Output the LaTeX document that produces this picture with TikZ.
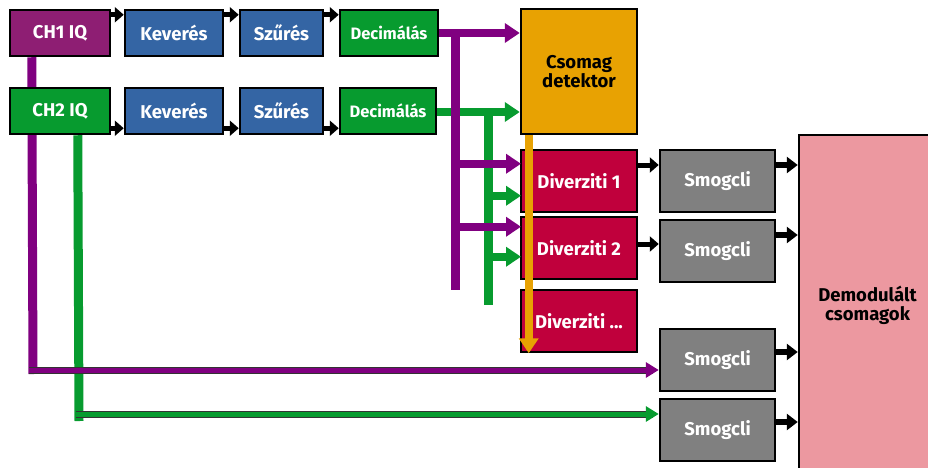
\documentclass[tikz,border=0pt]{standalone}
\usepackage{fontspec}
\setmainfont{Fira Sans}
\usetikzlibrary{arrows.meta,backgrounds}
\definecolor{cPurple}{HTML}{8E1E73}
\definecolor{lPurple}{HTML}{800080}
\definecolor{cBlue}{HTML}{3465A4}
\definecolor{cGreen}{HTML}{079B2F}
\definecolor{cOrange}{HTML}{E8A202}
\definecolor{cCrimson}{HTML}{C0003C}
\definecolor{cGray}{HTML}{808080}
\definecolor{cPink}{HTML}{EC98A0}
\tikzset{
  box/.style={draw=black, line width=2.5pt, inner sep=0pt, text=white,
    font=\bfseries\fontsize{18.5}{21}\selectfont, align=center},
  smallbox/.style={box, font=\bfseries\fontsize{16.5}{19}\selectfont},
  blk/.style={line width=5pt, draw=black,
    -{Triangle[length=9pt,width=15pt]}},
  bigblk/.style={line width=6.5pt, draw=black,
    -{Triangle[length=11pt,width=16pt]}},
  feed/.style={line width=9pt},
  feedarrow/.style={line width=8.5pt, -{Triangle[length=15pt,width=19pt]}},
  outlined/.style={line width=7pt, draw=black!80},
}
\begin{document}
\begin{tikzpicture}[x=1pt,y=-1pt]
\useasboundingbox (0,0) rectangle (928,468);
% input chains
\node[box, fill=cPurple, minimum width=100pt, minimum height=46pt] (ch1) at (60,33) {CH1 IQ};
\node[box, fill=cBlue, minimum width=98pt, minimum height=46pt] (kev1) at (174,33) {Keverés};
\node[box, fill=cBlue, minimum width=83pt, minimum height=46pt] (sz1) at (281.5,33) {Szűrés};
\node[smallbox, fill=cGreen, minimum width=98pt, minimum height=46pt] (dec1) at (389,33) {Decimálás};
\node[box, fill=cGreen, minimum width=100pt, minimum height=46pt] (ch2) at (60,111) {CH2 IQ};
\node[box, fill=cBlue, minimum width=98pt, minimum height=46pt] (kev2) at (174,111) {Keverés};
\node[box, fill=cBlue, minimum width=83pt, minimum height=46pt] (sz2) at (281.5,111) {Szűrés};
\node[smallbox, fill=cGreen, minimum width=96pt, minimum height=46pt] (dec2) at (388,111) {Decimálás};
% detector and diversity branches
\node[box, fill=cOrange, text=black, minimum width=116pt, minimum height=125pt] (det) at (579,71.5) {Csomag\\[-2pt]detektor};
\node[box, fill=cCrimson, minimum width=116pt, minimum height=62pt] (div1) at (579,181) {Diverziti 1};
\node[box, fill=cCrimson, minimum width=116pt, minimum height=62pt] (div2) at (579,248) {Diverziti 2};
\node[box, fill=cCrimson, minimum width=116pt, minimum height=62pt] (div3) at (579,321) {Diverziti ...};
% demodulators
\node[box, fill=cGray, minimum width=115pt, minimum height=62pt] (sm1) at (717.5,181) {Smogcli};
\node[box, fill=cGray, minimum width=115pt, minimum height=62pt] (sm2) at (717.5,251) {Smogcli};
\node[box, fill=cGray, minimum width=115pt, minimum height=62pt] (sm3) at (717.5,360) {Smogcli};
\node[box, fill=cGray, minimum width=115pt, minimum height=62pt] (sm4) at (717.5,430) {Smogcli};
\node[box, fill=cPink, text=black, minimum width=137pt, minimum height=340pt] (demod) at (867.5,305) {Demodulált\\[-2pt]csomagok};
% junction points of the feed lines
\coordinate (pv) at (455,290);
\coordinate (gv) at (488,305);
\coordinate (pb) at (33,374);
\coordinate (pc) at (29,370);
\coordinate (gb) at (79,421);
\coordinate (gc) at (76,414);
% processing chain arrows
\draw[blk] ([yshift=-6pt]ch1.north east) -- ([yshift=-6pt]kev1.north west);
\draw[blk] ([yshift=-6pt]kev1.north east) -- ([yshift=-6pt]sz1.north west);
\draw[blk] ([yshift=-6pt]sz1.north east) -- ([yshift=-6pt]dec1.north west);
\draw[blk] ([yshift=7pt]ch2.south east) -- ([yshift=7pt]kev2.south west);
\draw[blk] ([yshift=7pt]kev2.south east) -- ([yshift=7pt]sz2.south west);
\draw[blk] ([yshift=7pt]sz2.south east) -- ([yshift=7pt]dec2.south west);
\draw[blk] ([yshift=16pt]div1.east) -- ([yshift=16pt]div1.east -| sm1.west);
\draw[blk] ([yshift=4pt]div2.east) -- ([yshift=4pt]div2.east -| sm2.west);
\draw[bigblk] ([yshift=16pt]sm1.east) -- ([yshift=16pt]sm1.east -| demod.west);
\draw[bigblk] ([yshift=16pt]sm2.east) -- ([yshift=16pt]sm2.east -| demod.west);
\draw[bigblk] ([yshift=8pt]sm3.east) -- ([yshift=8pt]sm3.east -| demod.west);
\draw[bigblk] ([yshift=8pt]sm4.east) -- ([yshift=8pt]sm4.east -| demod.west);
% channel feeds to detector and diversity branches
\draw[feedarrow, lPurple] (dec1.east) -- (dec1.east -| det.west);
\draw[feedarrow, cGreen] ([yshift=-1pt]dec2.east) -- ([yshift=-1pt]dec2.east -| det.west);
\draw[feed, lPurple] (dec1.east -| pv) -- (pv);
\draw[feed, cGreen] ([yshift=-1pt]dec2.east -| gv) -- (gv);
\draw[feedarrow, lPurple] (pv |- div1.north) ++(0,15) -- ++(66,0);
\draw[feedarrow, lPurple] (pv |- div2.north) ++(0,11) -- ++(66,0);
\draw[feedarrow, cGreen] (gv |- div1.north) ++(0,47) -- ++(33,0);
\draw[feedarrow, cGreen] (gv |- div2.north) ++(0,41) -- ++(33,0);
% detector trigger
\draw[feedarrow, cOrange] ([xshift=9pt]det.south west) -- ([xshift=9pt]div3.south west);
% direct channel feeds to the last demodulators
\begin{scope}[on background layer]
\draw[feed, lPurple] ([xshift=23pt]ch1.south west) -- (pb);
\draw[feed, cGreen] ([xshift=69pt]ch2.south west) -- (gb);
\end{scope}
\draw[outlined] (pc) -- ([xshift=-6pt]pc -| sm3.west);
\draw[line width=5pt, lPurple] (pc) -- ([xshift=-6pt]pc -| sm3.west);
\draw[lPurple, -{Triangle[length=13pt,width=15pt]}, line width=5pt] ([xshift=-14pt]pc -| sm3.west) -- (pc -| sm3.west);
\draw[outlined] (gc) -- ([xshift=-6pt]gc -| sm4.west);
\draw[line width=5pt, cGreen] (gc) -- ([xshift=-6pt]gc -| sm4.west);
\draw[cGreen, -{Triangle[length=13pt,width=15pt]}, line width=5pt] ([xshift=-14pt]gc -| sm4.west) -- (gc -| sm4.west);
\end{tikzpicture}
\end{document}
